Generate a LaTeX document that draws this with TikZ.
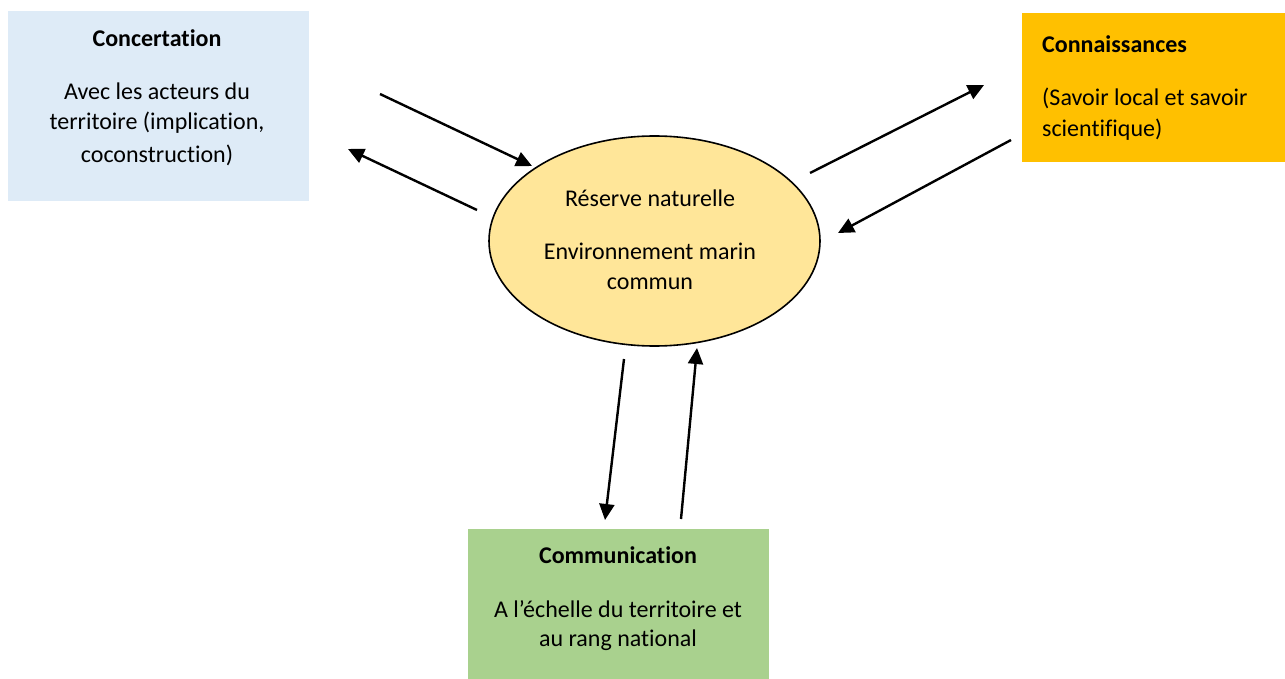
\documentclass[tikz,border=0pt]{standalone}
\usepackage{fontspec}
\setmainfont{Carlito}[Ligatures=NoCommon]
\usetikzlibrary{arrows.meta,shapes.geometric}
\definecolor{cblue}{HTML}{DEEBF7}
\definecolor{corange}{HTML}{FFC000}
\definecolor{cgreen}{HTML}{A9D18E}
\definecolor{cyell}{HTML}{FFE699}
\tikzset{
  box/.style={draw=none, inner sep=0pt, outer sep=0pt},
  txt/.style={inner sep=0pt, font=\fontsize{24}{28}\selectfont},
  btxt/.style={inner sep=0pt, font=\fontsize{24}{28}\selectfont\bfseries},
  arr/.style={line width=2.4pt, -{Triangle[length=16pt,width=15pt]}},
}
\begin{document}
\begin{tikzpicture}[x=1pt,y=-1pt]
\useasboundingbox (0,0) rectangle (1285,679);
\fill[white] (0,0) rectangle (1285,679);
% boxes
\node[box, fill=cblue, minimum width=301pt, minimum height=190pt, anchor=north west] (conc) at (8,11) {};
\node[box, fill=corange, minimum width=264pt, minimum height=149pt, anchor=north west] (conn) at (1022,13) {};
\node[box, fill=cgreen, minimum width=301pt, minimum height=151pt, anchor=north west] (comm) at (468,529) {};
\node[draw, line width=1.6pt, fill=cyell, ellipse, minimum width=331pt, minimum height=210pt, inner sep=0pt] (res) at (654.5,241) {};
% texts
\node[btxt] (t1) at (157,38) {Concertation};
\node[txt] (t2) at (157,91) {Avec les acteurs du};
\node[txt] (t3) at (157,123) {territoire (implication,};
\node[txt] (t4) at (157,155) {coconstruction)};
\node[btxt, anchor=west] (t5) at (1042,44) {Connaissances};
\node[txt, anchor=west] (t6) at (1042,98) {(Savoir local et savoir};
\node[txt, anchor=west] (t7) at (1042,130) {scientifique)};
\node[txt] (t8) at (650,198) {Réserve naturelle};
\node[txt] (t9) at (650,251) {Environnement marin};
\node[txt] (t10) at (650,284) {commun};
\node[btxt] (t11) at (618,555) {Communication};
\node[txt] (t12) at (618,609) {A l’échelle du territoire et};
\node[txt] (t13) at (618,640) {au rang national};
% arrow endpoints
\coordinate (a1s) at (380,94);  \coordinate (a1e) at (532,166);
\coordinate (a2s) at (477,210); \coordinate (a2e) at (348,149);
\coordinate (a3s) at (810,173); \coordinate (a3e) at (984,85);
\coordinate (a4s) at (1011,140);\coordinate (a4e) at (838,233);
\coordinate (a5s) at (624,359); \coordinate (a5e) at (605,520);
\coordinate (a6s) at (681,519); \coordinate (a6e) at (697,348);
\draw[arr] (a1s) -- (a1e);
\draw[arr] (a2s) -- (a2e);
\draw[arr] (a3s) -- (a3e);
\draw[arr] (a4s) -- (a4e);
\draw[arr] (a5s) -- (a5e);
\draw[arr] (a6s) -- (a6e);
\end{tikzpicture}
\end{document}
